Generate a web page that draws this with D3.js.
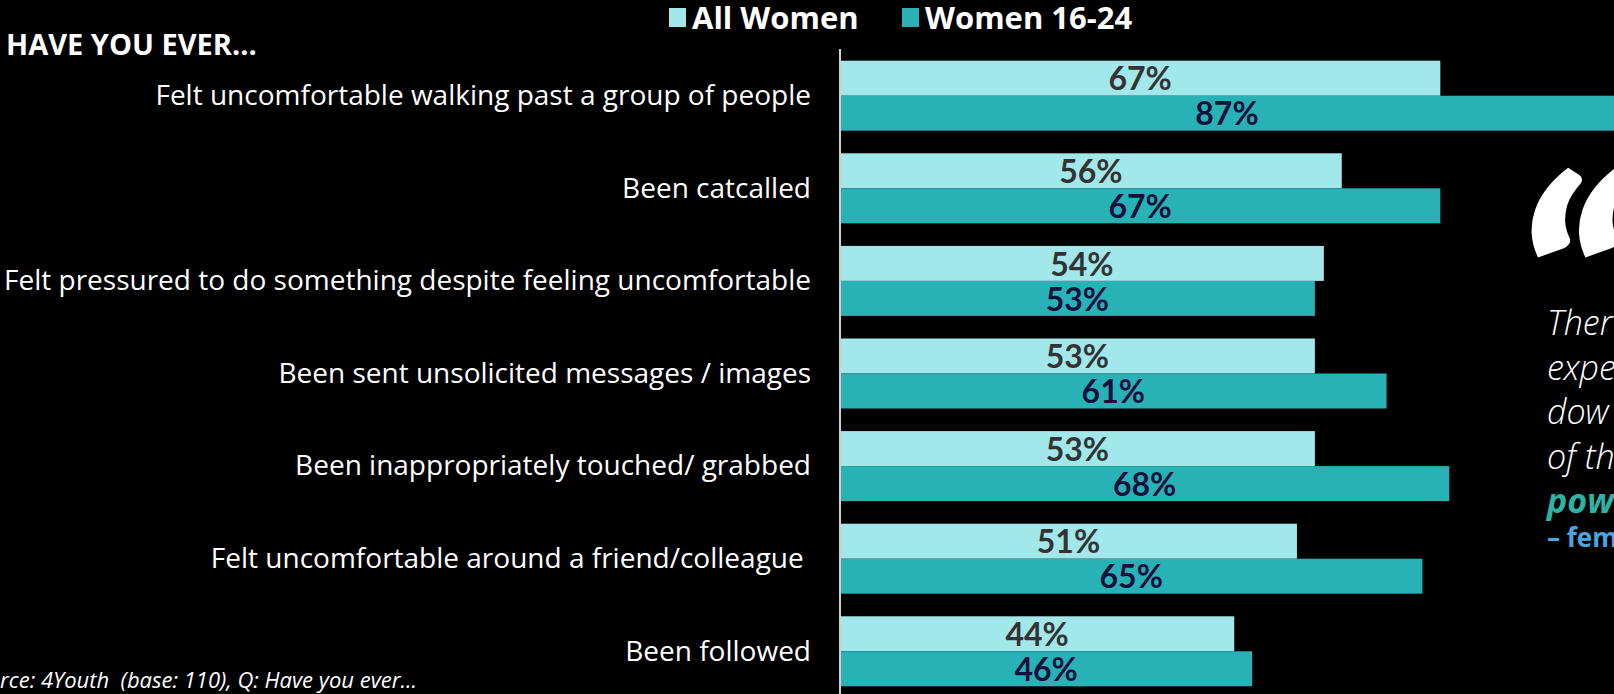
<!DOCTYPE html>
<html>
<head>
<meta charset="utf-8">
<script src="https://cdn.jsdelivr.net/npm/d3@7/dist/d3.min.js"></script>
<style>
  html, body { margin: 0; padding: 0; background: #000; overflow: hidden; }
  svg { display: block; }
  text { white-space: pre; }
</style>
</head>
<body>
<svg id="chart" width="1614" height="694"></svg>
<script>
// Survey answers: share of respondents who said yes
const categories = [
  "Felt uncomfortable walking past a group of people",
  "Been catcalled",
  "Felt pressured to do something despite feeling uncomfortable",
  "Been sent unsolicited messages / images",
  "Been inappropriately touched/ grabbed",
  "Felt uncomfortable around a friend/colleague ",
  "Been followed"
];
const seriesNames = ["All Women", "Women 16-24"];
const allWomen = [67, 56, 54, 53, 53, 51, 44];
const women1624 = [87, 67, 53, 61, 68, 65, 46];

const quoteLines = ["Ther", "expe", "dow", "of th"];
const quoteEmphasis = "pow";
const quoteAttribution = "\u2013 fem";

const W = 1614, H = 694;
const svg = d3.select("#chart");
svg.append("rect").attr("width", W).attr("height", H).attr("fill", "#000");

const colors = d3.scaleOrdinal().domain(seriesNames).range(["#a2e8eb", "#29b2b6"]);
const labelColors = d3.scaleOrdinal().domain(seriesNames).range(["#333333", "#10103c"]);

const rows = categories.map((c, i) => ({
  category: c,
  values: [
    { series: seriesNames[0], value: allWomen[i] },
    { series: seriesNames[1], value: women1624[i] }
  ]
}));

const x = d3.scaleLinear().domain([0, 100]).range([840, 1736]);
const y = d3.scaleBand().domain(categories).range([60.7, 686.3]).paddingInner(0.244).paddingOuter(0);
const ySub = d3.scaleBand().domain(seriesNames).range([0, y.bandwidth()]).padding(0);

// Category axis on the left, labels only
const yAxis = d3.axisLeft(y).tickSize(0).tickPadding(29);
const gAxis = svg.append("g").attr("transform", `translate(${x(0)},0)`).call(yAxis);
gAxis.select(".domain").remove();
gAxis.selectAll(".tick text")
  .attr("fill", "#ffffff")
  .attr("font-family", "'Open Sans', sans-serif")
  .attr("font-size", 28)
  .attr("font-weight", 400)
  .attr("dy", "0.33em");

// Bars
const groups = svg.append("g").selectAll("g")
  .data(rows).join("g")
  .attr("transform", d => `translate(0,${y(d.category)})`);

groups.selectAll("rect")
  .data(d => d.values).join("rect")
  .attr("x", x(0))
  .attr("y", d => ySub(d.series))
  .attr("width", d => x(d.value) - x(0))
  .attr("height", ySub.bandwidth())
  .attr("fill", d => colors(d.series));

groups.selectAll("text.val")
  .data(d => d.values).join("text")
  .attr("class", "val")
  .attr("x", d => (x(0) + Math.min(x(d.value), W)) / 2)
  .attr("y", d => ySub(d.series) + ySub.bandwidth() / 2)
  .attr("dy", "0.38em")
  .attr("text-anchor", "middle")
  .attr("font-family", "Lato, sans-serif")
  .attr("font-weight", 700)
  .attr("font-size", 32)
  .attr("fill", d => labelColors(d.series))
  .text(d => d.value + "%");

// Baseline
svg.append("line")
  .attr("x1", x(0)).attr("x2", x(0))
  .attr("y1", 49).attr("y2", H)
  .attr("stroke", "#cfcfcf").attr("stroke-width", 2);

// Heading
svg.append("text")
  .attr("x", 6).attr("y", 55)
  .attr("fill", "#fff")
  .attr("font-family", "'Open Sans', sans-serif")
  .attr("font-weight", 700)
  .attr("font-size", 29)
  .text("HAVE YOU EVER...");

// Legend
const legend = svg.append("g");
const legendX = [669, 902];
seriesNames.forEach((s, i) => {
  legend.append("rect")
    .attr("x", legendX[i]).attr("y", 8)
    .attr("width", 17).attr("height", 19)
    .attr("fill", colors(s));
  legend.append("text")
    .attr("x", legendX[i] + 23).attr("y", 29)
    .attr("fill", "#fff")
    .attr("font-family", "'Open Sans', sans-serif")
    .attr("font-weight", 700)
    .attr("font-size", 31)
    .text(s);
});

// Source note
svg.append("text")
  .attr("x", 417).attr("y", 688)
  .attr("text-anchor", "end")
  .attr("fill", "#fff")
  .attr("font-family", "'Open Sans', sans-serif")
  .attr("font-style", "italic")
  .attr("font-size", 22)
  .text("Source: 4Youth  (base: 110), Q: Have you ever...");

// Quote panel
svg.append("text")
  .attr("x", 1511).attr("y", 403)
  .attr("fill", "#fff")
  .attr("font-family", "Lato, sans-serif")
  .attr("font-weight", 900)
  .attr("font-style", "italic")
  .attr("font-size", 300)
  .text("\u201C");

const quote = svg.append("g").attr("font-family", "'Open Sans', sans-serif");
quoteLines.forEach((t, i) => {
  quote.append("text")
    .attr("x", 1547).attr("y", 335 + i * 44.5)
    .attr("fill", "#fff")
    .attr("font-style", "italic")
    .attr("font-weight", 300)
    .attr("font-size", 34)
    .text(t);
});
quote.append("text")
  .attr("x", 1547).attr("y", 513)
  .attr("fill", "#2db3a3")
  .attr("font-style", "italic")
  .attr("font-weight", 700)
  .attr("font-size", 34)
  .text(quoteEmphasis);
quote.append("text")
  .attr("x", 1547).attr("y", 547)
  .attr("fill", "#4aa6e0")
  .attr("font-weight", 700)
  .attr("font-size", 26)
  .text(quoteAttribution);
</script>
</body>
</html>
